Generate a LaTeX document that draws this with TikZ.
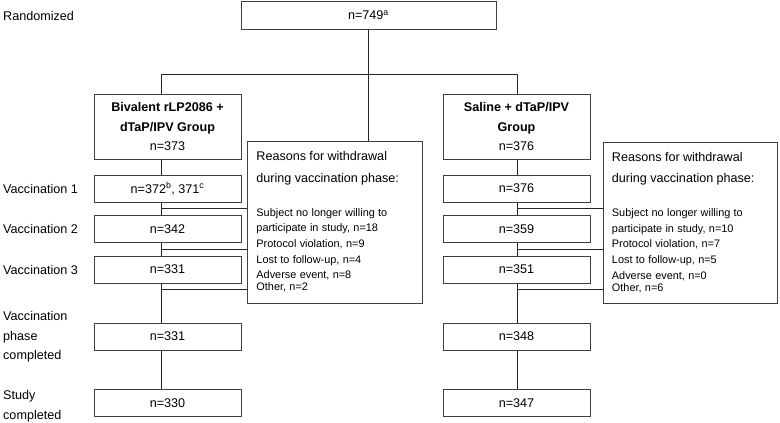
\documentclass[tikz,border=0pt]{standalone}
\usepackage{fontspec}
\setmainfont{Liberation Sans}
\usetikzlibrary{calc}

\newcommand{\mainsize}{\fontsize{12.6}{19.5}\selectfont}
\newcommand{\reasonhead}{\fontsize{12.6}{21.7}\selectfont}
\newcommand{\reasonlist}{\fontsize{10.9}{15.6}\selectfont}

\tikzset{
	countbox/.style={draw=black!75, line width=1pt, minimum width=147pt, minimum height=27pt, inner sep=0pt, font=\mainsize},
	groupbox/.style={countbox, minimum height=65pt, align=center},
	reasonbox/.style={draw=black!75, line width=1pt, minimum width=174.5pt, minimum height=161.5pt, inner sep=0pt},
	reasontext/.style={anchor=north west, inner sep=0pt, text width=160pt, align=left},
	sidelabel/.style={anchor=west, inner sep=0pt, align=left, font=\mainsize},
	link/.style={draw=black!85, line width=0.8pt},
}

\begin{document}
\begin{tikzpicture}[x=1pt, y=-1pt]
	\useasboundingbox (0,0) rectangle (780,423); % Rand wie Vorlage
	
	% Beschriftung links
	\node[sidelabel] (lRand) at (3,16) {Randomized};
	\node[sidelabel] (lVac1) at (3,189) {Vaccination 1};
	\node[sidelabel] (lVac2) at (3,229) {Vaccination 2};
	\node[sidelabel] (lVac3) at (3,270) {Vaccination 3};
	\node[sidelabel] (lPhase) at (3,337) {Vaccination\\phase\\completed};
	\node[sidelabel] (lStudy) at (3,406) {Study\\completed};
	
	% Randomisierung
	\node[countbox, minimum width=255pt, minimum height=28pt] (rand) at (368.5,15) {n=749\textsuperscript{a}};
	
	% Gruppe A (links)
	\node[groupbox] (gA) at (167.5,126.5) {\textbf{Bivalent rLP2086 +}\\\textbf{dTaP/IPV Group}\\n=373};
	\node[countbox] (a1) at (167.5,188.5) {n=372\textsuperscript{b}, 371\textsuperscript{c}};
	\node[countbox] (a2) at (167.5,229) {n=342};
	\node[countbox] (a3) at (167.5,269.5) {n=331};
	\node[countbox] (a4) at (167.5,336.5) {n=331};
	\node[countbox] (a5) at (167.5,403) {n=330};
	
	% Gruppe B (rechts)
	\node[groupbox] (gB) at (516.5,126.5) {\textbf{Saline + dTaP/IPV}\\\textbf{Group}\\n=376};
	\node[countbox] (b1) at (516.5,188.5) {n=376};
	\node[countbox] (b2) at (516.5,229) {n=359};
	\node[countbox] (b3) at (516.5,269.5) {n=351};
	\node[countbox] (b4) at (516.5,336.5) {n=348};
	\node[countbox] (b5) at (516.5,403) {n=347};
	
	% Abbruchgruende
	\node[reasonbox] (wA) at (335,222.5) {};
	\node[reasonbox] (wB) at (690.5,223) {};
	\node[reasontext] (tA) at ($(wA.north west)+(9,10)$) {\reasonhead Reasons for withdrawal\\during vaccination phase:\par
		\reasonlist\vspace{18.4pt}Subject no longer willing to\\participate in study, n=18\\Protocol violation, n=9\\Lost to follow-up, n=4\\Adverse event, n=8\\Other, n=2};
	\node[reasontext] (tB) at ($(wB.north west)+(9,10)$) {\reasonhead Reasons for withdrawal\\during vaccination phase:\par
		\reasonlist\vspace{18.4pt}Subject no longer willing to\\participate in study, n=10\\Protocol violation, n=7\\Lost to follow-up, n=5\\Adverse event, n=0\\Other, n=6};
	
	% Verbindungen
	\coordinate (spineA) at (161,74);
	\coordinate (spineB) at (517,74);
	\draw[link] (rand.south) -- (rand.south |- wA.north);
	\draw[link] (gA.north -| spineA) -- (spineA) -- (spineB) -- (gB.north -| spineB);
	\foreach \u/\l in {gA/a1, a1/a2, a2/a3, a3/a4, a4/a5}
		\draw[link] (\u.south -| spineA) -- (\l.north -| spineA);
	\foreach \u/\l in {gB/b1, b1/b2, b2/b3, b3/b4, b4/b5}
		\draw[link] (\u.south -| spineB) -- (\l.north -| spineB);
	\foreach \y [count=\i] in {208.5,249.5,289} {
		\coordinate (brA\i) at (161,\y);
		\coordinate (brB\i) at (517,\y);
		\draw[link] (brA\i) -- (brA\i -| wA.west);
		\draw[link] (brB\i) -- (brB\i -| wB.west);
	}
\end{tikzpicture}
\end{document}
